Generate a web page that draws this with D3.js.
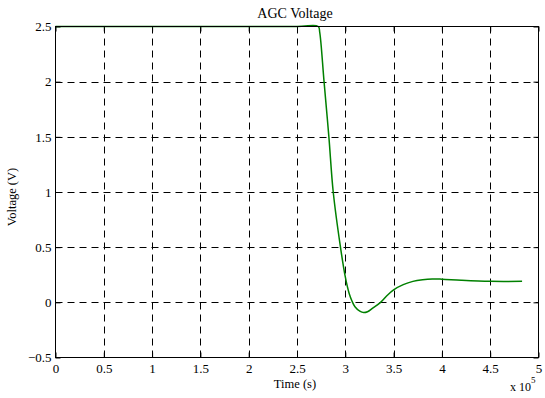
<!DOCTYPE html>
<html><head><meta charset="utf-8">
<script src="https://cdn.jsdelivr.net/npm/d3@7"></script>
<style>body{margin:0;background:#fff}svg{display:block}text{font-family:"Liberation Serif","Times New Roman",serif;fill:#000}</style>
</head><body><svg id="c" width="545" height="398"></svg>
<script>
const timeE5 = [0, 2.5, 2.72, 2.735, 2.78, 2.83, 2.875, 2.95, 3.0, 3.04, 3.07, 3.1, 3.15, 3.19, 3.23, 3.28, 3.365, 3.43, 3.5, 3.6, 3.7, 3.8, 3.9, 4.0, 4.2, 4.5, 4.83];
const voltage = [2.5, 2.5, 2.5, 2.45, 2.0, 1.5, 1.0, 0.5, 0.23, 0.08, 0.01, -0.04, -0.08, -0.093, -0.085, -0.055, 0.0, 0.06, 0.113, 0.16, 0.19, 0.205, 0.212, 0.21, 0.2, 0.19, 0.19];
const xTicks = [0, 0.5, 1, 1.5, 2, 2.5, 3, 3.5, 4, 4.5, 5];
const yTicks = [-0.5, 0, 0.5, 1, 1.5, 2, 2.5];

const svg = d3.select("#c");
const L = 55.5, R = 538.5, T = 26.5, B = 357.5;
const x = d3.scaleLinear().domain([0, 5]).range([L, R]);
const y = d3.scaleLinear().domain([-0.5, 2.5]).range([B, T]);

const g = svg.append("g");
g.selectAll(".gx").data(xTicks.slice(1, -1)).join("line")
  .attr("x1", d => Math.round(x(d)) + 0.5).attr("x2", d => Math.round(x(d)) + 0.5)
  .attr("y1", T).attr("y2", B).attr("stroke", "#000").attr("stroke-dasharray", "7,5").attr("stroke-width", 1);
g.selectAll(".gy").data(yTicks.slice(1, -1)).join("line")
  .attr("y1", d => Math.round(y(d)) + 0.5).attr("y2", d => Math.round(y(d)) + 0.5)
  .attr("x1", L).attr("x2", R).attr("stroke", "#000").attr("stroke-dasharray", "7,5").attr("stroke-width", 1);

const xb = d3.axisBottom(x).tickValues(xTicks).tickSize(-5).tickPadding(6).tickFormat(d3.format("~g"));
const xt = d3.axisTop(x).tickValues(xTicks).tickSize(-5).tickFormat("");
const yl = d3.axisLeft(y).tickValues(yTicks).tickSize(-5).tickPadding(4).tickFormat(d3.format("~g"));
const yr = d3.axisRight(y).tickValues(yTicks).tickSize(-5).tickFormat("");
function style(sel){
  sel.attr("font-family", "Liberation Serif").attr("font-size", 13);
  sel.selectAll("path").remove();
  sel.selectAll("line").attr("stroke","#000");
  sel.selectAll("text").style("font-family","Liberation Serif").style("font-size","13px");
}
svg.append("g").attr("transform", `translate(0,${B})`).call(xb).call(style);
svg.append("g").attr("transform", `translate(0,${T})`).call(xt).call(style);
svg.append("g").attr("transform", `translate(${L},0)`).call(yl).call(style);
svg.append("g").attr("transform", `translate(${R},0)`).call(yr).call(style);

const line = d3.line().x((d, i) => x(timeE5[i])).y(d => y(d)).curve(d3.curveCatmullRom.alpha(0.5));
svg.append("path").datum(voltage).attr("d", line).attr("fill", "none").attr("stroke", "#008000").attr("stroke-width", 1.5);

svg.append("rect").attr("x", L).attr("y", T).attr("width", R - L).attr("height", B - T)
  .attr("fill", "none").attr("stroke", "#000").attr("stroke-width", 1);

svg.append("text").attr("x", 295).attr("y", 18).attr("text-anchor", "middle").style("font-size", "14px").text("AGC Voltage");
svg.append("text").attr("x", 295).attr("y", 388).attr("text-anchor", "middle").style("font-size", "12.5px").text("Time (s)");
svg.append("text").attr("transform", `translate(16,197) rotate(-90)`).attr("text-anchor", "middle").style("font-size", "12.5px").text("Voltage (V)");
const ex = svg.append("text").attr("x", 510).attr("y", 391).style("font-size", "12px");
ex.append("tspan").text("x 10");
ex.append("tspan").attr("dy", -8).style("font-size", "9px").text("5");
</script></body></html>
